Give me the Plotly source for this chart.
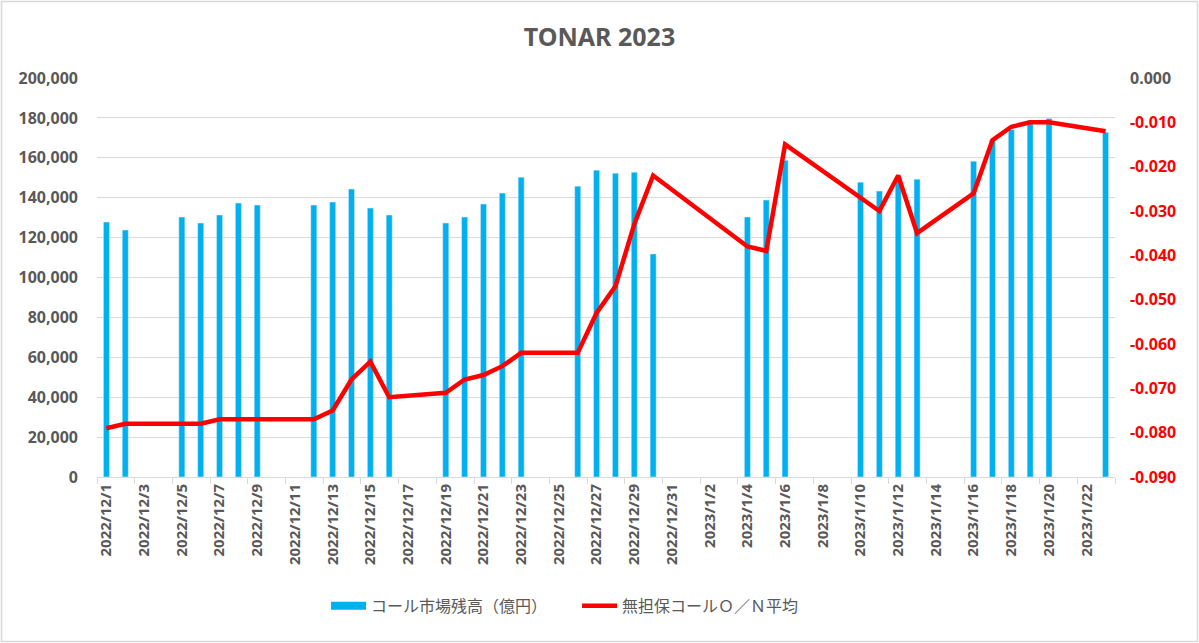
import pandas as pd
import plotly.graph_objects as go

# business days, Dec 2022 - Jan 2023
dates = ["2022-12-01", "2022-12-02", "2022-12-05", "2022-12-06", "2022-12-07",
         "2022-12-08", "2022-12-09", "2022-12-12", "2022-12-13", "2022-12-14",
         "2022-12-15", "2022-12-16", "2022-12-19", "2022-12-20", "2022-12-21",
         "2022-12-22", "2022-12-23", "2022-12-26", "2022-12-27", "2022-12-28",
         "2022-12-29", "2022-12-30", "2023-01-04", "2023-01-05", "2023-01-06",
         "2023-01-10", "2023-01-11", "2023-01-12", "2023-01-13", "2023-01-16",
         "2023-01-17", "2023-01-18", "2023-01-19", "2023-01-20", "2023-01-23"]

# call market balance (100 million yen)
balance = [127800, 123800, 130300, 127300, 131300,
           137300, 136300, 136300, 137800, 144300,
           134800, 131300, 127300, 130300, 136800,
           142300, 150300, 145800, 153800, 152300,
           152800, 111800, 130300, 138800, 158800,
           147800, 143300, 150000, 149300, 158300,
           168800, 174200, 178800, 179700, 172800]

# uncollateralized overnight call rate average
rate = [-0.079, -0.078, -0.078, -0.078, -0.077,
        -0.077, -0.077, -0.077, -0.075, -0.068,
        -0.064, -0.072, -0.071, -0.068, -0.067,
        -0.065, -0.062, -0.062, -0.053, -0.047,
        -0.033, -0.022, -0.038, -0.039, -0.015,
        -0.027, -0.030, -0.022, -0.035, -0.026,
        -0.014, -0.011, -0.010, -0.010, -0.012]

x_labels = pd.date_range("2022-12-01", "2023-01-22", freq="2D")
right_vals = [0, -0.01, -0.02, -0.03, -0.04, -0.05, -0.06, -0.07, -0.08, -0.09]

grey = "#595959"
day_ms = 86400000

fig = go.Figure()
fig.add_trace(go.Bar(x=dates, y=balance, name="コール市場残高（億円）",
                     marker_color="#00B0F0", width=0.32 * day_ms, showlegend=False))
fig.add_trace(go.Scatter(x=dates, y=rate, name="無担保コールＯ／Ｎ平均", yaxis="y2",
                         mode="lines", line=dict(color="#FF0000", width=4.5),
                         legendrank=2))
# legend swatch for the bars (Excel style wide rectangle)
fig.add_trace(go.Scatter(x=[None], y=[None], name="コール市場残高（億円）", mode="lines",
                         line=dict(color="#00B0F0", width=8), legendrank=1))

fig.update_layout(
    width=1199, height=643,
    paper_bgcolor="white", plot_bgcolor="white",
    margin=dict(l=97, r=84, t=78, b=166),
    title=dict(text="<b>TONAR 2023</b>", x=0.5, xanchor="center",
               y=0.9425, yanchor="middle",
               font=dict(size=25, color=grey, family="Noto Sans")),
    font=dict(family="Noto Sans, Noto Sans CJK JP", color=grey),
    showlegend=True,
    legend=dict(orientation="h", x=0.225, xanchor="left", y=-0.323, yanchor="middle",
                font=dict(size=16, family="Noto Sans CJK JP", color=grey),
                itemwidth=35, entrywidth=201, traceorder="normal"),
    xaxis=dict(
        type="date",
        range=["2022-11-30 12:00", "2023-01-23 12:00"],
        tickvals=x_labels,
        ticktext=["<b>%d/%d/%d</b>" % (d.year, d.month, d.day) for d in x_labels],
        tickangle=-90, ticks="",
        tickfont=dict(size=15, color=grey),
        showline=True, linecolor="#D9D9D9", linewidth=1,
        showgrid=False,
        minor=dict(ticks="outside", ticklen=6, tickcolor="#D9D9D9",
                   tick0="2022-11-30 12:00", dtick=2 * day_ms, showgrid=False),
    ),
    yaxis=dict(
        range=[0, 200000], dtick=20000, tickformat=",",
        tickprefix="<b>", ticksuffix="</b>",
        tickfont=dict(size=16, color=grey),
        showgrid=True, gridcolor="#D9D9D9", gridwidth=1,
        zeroline=False, ticklabelstandoff=18,
    ),
    yaxis2=dict(
        overlaying="y", side="right",
        range=[-0.09, 0],
        tickvals=right_vals,
        ticktext=["<b>0.000</b>"] + ["<b><span style='color:#FF0000'>%.3f</span></b>" % v
                                     for v in right_vals[1:]],
        tickfont=dict(size=16, color=grey),
        showgrid=False, zeroline=False, ticklabelstandoff=14,
    ),
    shapes=[dict(type="rect", xref="paper", yref="paper",
                 x0=-0.0938, x1=1.0810, y0=-0.4123, y1=1.1917,
                 line=dict(color="#D9D9D9", width=1.5))],
)

# drop the default 8px body margin so the figure fills the window
fig.write_html("out.html", config={"displayModeBar": False},
               post_script="document.body.style.margin='0';")
